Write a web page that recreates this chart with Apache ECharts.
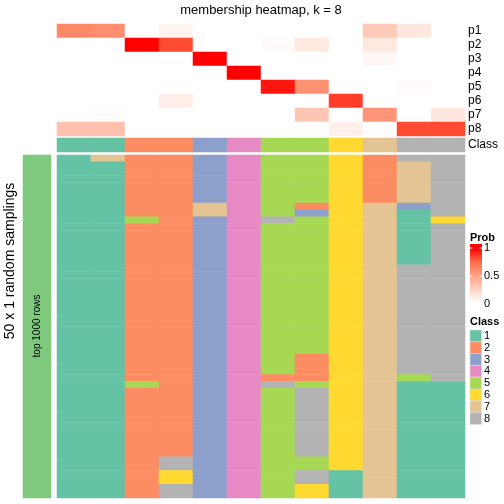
<!DOCTYPE html>
<html><head><meta charset="utf-8">
<script src="https://cdn.jsdelivr.net/npm/echarts@6/dist/echarts.min.js"></script>
<style>html,body{margin:0;padding:0;background:#fff}#c{width:504px;height:504px}</style>
</head><body><div id="c"></div>
<script>
const columns = ['c1','c2','c3','c4','c5','c6','c7','c8','c9','c10','c11','c12'];
const probRows = ['p1','p2','p3','p4','p5','p6','p7','p8'];
const p1 = [0.60,0.58,0,0.06,0,0,0,0,0,0.28,0.13,0];
const p2 = [0,0,1,0.82,0,0,0.02,0.12,0,0.12,0,0];
const p3 = [0,0,0,0,1,0,0,0,0,0.04,0,0];
const p4 = [0,0,0,0,0,1,0,0,0,0,0,0];
const p5 = [0,0,0,0,0,0,0.95,0.56,0,0,0.02,0];
const p6 = [0,0,0,0.09,0,0,0,0,0.85,0,0,0];
const p7 = [0,0.02,0,0,0,0,0,0.30,0,0.54,0,0.13];
const p8 = [0.32,0.32,0,0,0,0,0,0,0.08,0,0.82,0.82];
const classRow = [1,1,2,2,3,4,5,5,6,7,8,8];
const classLabels = ['1','2','3','4','5','6','7','8'];
const classColors = ['#66C2A5','#FC8D62','#8DA0CB','#E78AC3','#A6D854','#FFD92F','#E5C494','#B3B3B3'];
const probTicks = ['1','0.5','0'];

// 50 random samplings (rows) for each of the 12 columns
const s01 = [1,1,1,1,1,1,1,1,1,1, 1,1,1,1,1,1,1,1,1,1, 1,1,1,1,1,1,1,1,1,1, 1,1,1,1,1,1,1,1,1,1, 1,1,1,1,1,1,1,1,1,1];
const s02 = [7,1,1,1,1,1,1,1,1,1, 1,1,1,1,1,1,1,1,1,1, 1,1,1,1,1,1,1,1,1,1, 1,1,1,1,1,1,1,1,1,1, 1,1,1,1,1,1,1,1,1,1];
const s03 = [2,2,2,2,2,2,2,2,2,5, 2,2,2,2,2,2,2,2,2,2, 2,2,2,2,2,2,2,2,2,2, 2,2,2,5,2,2,2,2,2,2, 2,2,2,2,2,2,2,2,2,2];
const s04 = [2,2,2,2,2,2,2,2,2,2, 2,2,2,2,2,2,2,2,2,2, 2,2,2,2,2,2,2,2,2,2, 2,2,2,2,2,2,2,2,2,2, 2,2,2,2,8,8,6,6,8,8];
const s05 = [3,3,3,3,3,3,3,7,7,3, 3,3,3,3,3,3,3,3,3,3, 3,3,3,3,3,3,3,3,3,3, 3,3,3,3,3,3,3,3,3,3, 3,3,3,3,3,3,3,3,3,3];
const s06 = [4,4,4,4,4,4,4,4,4,4, 4,4,4,4,4,4,4,4,4,4, 4,4,4,4,4,4,4,4,4,4, 4,4,4,4,4,4,4,4,4,4, 4,4,4,4,4,4,4,4,4,4];
const s07 = [5,5,5,5,5,5,5,5,5,8, 5,5,5,5,5,5,5,5,5,5, 5,5,5,5,5,5,5,5,5,5, 5,5,2,8,5,5,5,5,5,5, 5,5,5,5,5,5,5,5,5,5];
const s08 = [5,5,5,5,5,5,5,2,3,5, 5,5,5,5,5,5,5,5,5,5, 5,5,5,5,5,5,5,5,5,2, 2,2,2,5,8,8,8,8,8,8, 8,8,8,8,5,5,8,8,6,6];
const s09 = [6,6,6,6,6,6,6,6,6,6, 6,6,6,6,6,6,6,6,6,6, 6,6,6,6,6,6,6,6,6,6, 6,6,6,6,6,6,6,6,6,6, 6,6,6,6,6,6,1,1,1,1];
const s10 = [2,2,2,2,2,2,2,7,7,7, 7,7,7,7,7,7,7,7,7,7, 7,7,7,7,7,7,7,7,7,7, 7,7,7,7,7,7,7,7,7,7, 7,7,7,7,7,7,7,7,7,7];
const s11 = [8,7,7,7,7,7,7,3,1,1, 1,1,1,1,1,1,8,8,8,8, 8,8,8,8,8,8,8,8,8,8, 8,8,5,1,1,1,1,1,1,1, 1,1,1,1,1,1,1,1,1,1];
const s12 = [8,8,8,8,8,8,8,8,8,6, 8,8,8,8,8,8,8,8,8,8, 8,8,8,8,8,8,8,8,8,8, 8,8,8,1,1,1,1,1,1,1, 1,1,1,1,1,1,1,1,1,1];
const samplingCols = [s01,s02,s03,s04,s05,s06,s07,s08,s09,s10,s11,s12];
const rowSet = ['top 1000 rows'];

const FONT = '"Liberation Sans", Arial, Helvetica, sans-serif';
const probData = [];
[p1,p2,p3,p4,p5,p6,p7,p8].forEach((arr, r) => arr.forEach((v, c) => probData.push([c, r, v])));
const classData = classRow.map((v, c) => [c, 0, v]);
const nRows = s01.length;
const rowCats = Array.from({length: nRows}, (_, i) => 'r' + (i + 1));
const mainData = [];
samplingCols.forEach((col, c) => col.forEach((v, r) => mainData.push([c, r, v])));

const hiddenCat = (data, extra) => Object.assign({type:'category', data, boundaryGap:true,
  axisLine:{show:false}, axisTick:{show:false}, axisLabel:{show:false}, splitLine:{show:false}}, extra || {});

const G = [
  {left:57, top:24, width:408, height:112},
  {left:57, top:138, width:408, height:14},
  {left:57, top:155, width:408, height:343},
  {left:23, top:155, width:28, height:343}
];

const graphics = [];
graphics.push({type:'text', z:100, x:261, y:10, style:{text:'membership heatmap, k = 8', font:'13px '+FONT, fill:'#000', textAlign:'center', textVerticalAlign:'middle'}});
graphics.push({type:'text', z:100, x:10, y:261, rotation:Math.PI/2, style:{text:'50 x 1 random samplings', font:'14px '+FONT, fill:'#000', textAlign:'center', textVerticalAlign:'middle'}});
graphics.push({type:'text', z:100, x:37, y:326, rotation:Math.PI/2, style:{text:rowSet[0], font:'10px '+FONT, fill:'#000', textAlign:'center', textVerticalAlign:'middle'}});
// Prob legend
graphics.push({type:'text', z:100, x:470, y:238, style:{text:'Prob', font:'bold 11px '+FONT, fill:'#000', textVerticalAlign:'middle'}});
graphics.push({type:'rect', z:100, shape:{x:470, y:244, width:12, height:62}, style:{fill:new echarts.graphic.LinearGradient(0,0,0,1,[
  {offset:0, color:'#FF0000'},{offset:0.065, color:'#FF0000'},{offset:0.28, color:'rgb(255,104,70)'},
  {offset:0.5, color:'rgb(255,158,129)'},{offset:0.72, color:'rgb(255,207,191)'},{offset:0.935, color:'#FFFFFF'},{offset:1, color:'#FFFFFF'}])}});
[248, 276, 304].forEach((y, i) => {
  graphics.push({type:'rect', z:101, shape:{x:470, y:y-0.5, width:2.5, height:1}, style:{fill:'#fff'}});
  graphics.push({type:'rect', z:101, shape:{x:479.5, y:y-0.5, width:2.5, height:1}, style:{fill:'#fff'}});
  graphics.push({type:'text', z:100, x:484, y:y, style:{text:probTicks[i], font:'11px '+FONT, fill:'#000', textVerticalAlign:'middle'}});
});
// Class legend
graphics.push({type:'text', z:100, x:470, y:322, style:{text:'Class', font:'bold 11px '+FONT, fill:'#000', textVerticalAlign:'middle'}});
classLabels.forEach((lab, i) => {
  const y = 330 + i * 11.8;
  graphics.push({type:'rect', z:100, shape:{x:470, y:y, width:11.5, height:11.8}, style:{fill:classColors[i], stroke:'#ddd', lineWidth:0.5}});
  graphics.push({type:'text', z:100, x:484, y:y+6, style:{text:lab, font:'11px '+FONT, fill:'#000', textVerticalAlign:'middle'}});
});

const option = {
  animation:false,
  backgroundColor:'#fff',
  grid: G,
  xAxis: [hiddenCat(columns,{gridIndex:0}), hiddenCat(columns,{gridIndex:1}), hiddenCat(columns,{gridIndex:2}), hiddenCat(['x'],{gridIndex:3})],
  yAxis: [
    hiddenCat(probRows,{gridIndex:0, inverse:true, position:'right', axisLabel:{show:true, interval:0, fontSize:12, color:'#000', margin:3, fontFamily:FONT}}),
    hiddenCat(['Class'],{gridIndex:1, position:'right', axisLabel:{show:true, interval:0, fontSize:12, color:'#000', margin:3, fontFamily:FONT}}),
    hiddenCat(rowCats,{gridIndex:2, inverse:true}),
    hiddenCat(rowSet,{gridIndex:3})
  ],
  visualMap: [
    {type:'continuous', min:0, max:1, seriesIndex:0, show:false,
     inRange:{color:['#FFFFFF','rgb(255,207,191)','rgb(255,158,129)','rgb(255,104,70)','#FF0000']}},
    {type:'piecewise', seriesIndex:[1,2], show:false, dimension:2,
     pieces: classColors.map((col, i) => ({value:i+1, color:col}))}
  ],
  series: [
    {type:'heatmap', xAxisIndex:0, yAxisIndex:0, data:probData, progressive:0, emphasis:{disabled:true}},
    {type:'heatmap', xAxisIndex:1, yAxisIndex:1, data:classData, progressive:0, emphasis:{disabled:true}},
    {type:'heatmap', xAxisIndex:2, yAxisIndex:2, data:mainData, progressive:0, emphasis:{disabled:true}},
    {type:'heatmap', xAxisIndex:3, yAxisIndex:3, data:[[0,0,1]], itemStyle:{color:'#7FC97F'}, progressive:0, emphasis:{disabled:true}}
  ],
  graphic: graphics
};
const chart = echarts.init(document.getElementById('c'), null, {renderer:'canvas'});
chart.setOption(option);
</script></body></html>
